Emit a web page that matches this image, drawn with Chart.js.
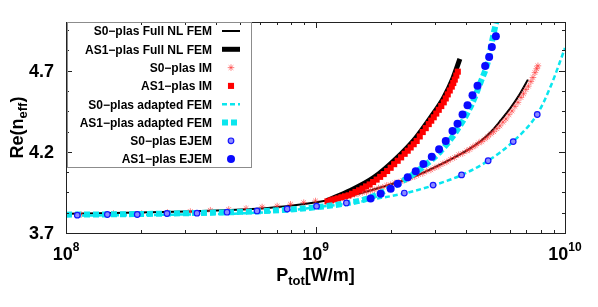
<!DOCTYPE html>
<html>
<head>
<meta charset="utf-8">
<script src="https://cdn.jsdelivr.net/npm/chart.js@4.4.0/dist/chart.umd.min.js"></script>
<style>
  html, body { margin: 0; padding: 0; background: #fff; }
</style>
</head>
<body>
<canvas id="grafico" width="598" height="307"></canvas>
<script>
// P_tot [W/m] and Re(n_eff)
var s0NlFemX = [1e8, 1.74e8, 3.03e8, 5.28e8, 7.65e8, 1.01e9, 1.33e9, 1.82e9, 2.48e9, 3.39e9, 4.08e9, 4.60e9, 5.04e9, 5.53e9, 6.07e9, 6.54e9, 7.10e9];
var s0NlFemY = [3.819, 3.824, 3.832, 3.846, 3.865, 3.889, 3.923, 3.980, 4.048, 4.145, 4.212, 4.267, 4.322, 4.395, 4.474, 4.548, 4.645];

var as1NlFemX = [1.11e9, 1.38e9, 1.71e9, 2.10e9, 2.52e9, 2.90e9, 3.27e9, 3.55e9, 3.79e9];
var as1NlFemY = [3.900, 3.962, 4.041, 4.157, 4.285, 4.413, 4.535, 4.651, 4.773];

// S0 IM: sparse below 1e9, a dense band of stars above
var s0ImX = [1.15e8, 1.55e8, 2.01e8, 2.55e8, 3.15e8, 3.79e8, 4.49e8, 5.27e8, 6.11e8, 7.02e8, 7.94e8, 8.97e8, 1.00e9,
             1.15e9, 1.19e9, 1.24e9, 1.28e9, 1.33e9, 1.38e9, 1.43e9, 1.48e9, 1.54e9, 1.60e9, 1.66e9, 1.72e9,
             1.79e9, 1.86e9, 1.93e9, 2.00e9, 2.08e9, 2.16e9, 2.24e9, 2.32e9, 2.41e9, 2.50e9, 2.59e9, 2.69e9,
             2.79e9, 2.90e9, 3.01e9, 3.12e9, 3.24e9, 3.36e9, 3.48e9, 3.61e9, 3.75e9, 3.89e9, 4.04e9, 4.15e9,
             4.27e9, 4.39e9, 4.51e9, 4.64e9, 4.77e9, 4.90e9, 5.04e9, 5.18e9, 5.33e9, 5.48e9, 5.64e9, 5.80e9,
             5.96e9, 6.13e9, 6.30e9, 6.48e9, 6.66e9, 6.82e9, 6.97e9, 7.13e9, 7.30e9, 7.44e9, 7.58e9, 7.70e9, 7.79e9];
var s0ImY = [3.814, 3.820, 3.820, 3.826, 3.832, 3.840, 3.845, 3.851, 3.860, 3.866, 3.877, 3.887, 3.897,
             3.907, 3.909, 3.916, 3.918, 3.926, 3.929, 3.938, 3.941, 3.950, 3.953, 3.962, 3.966,
             3.977, 3.982, 3.993, 3.997, 4.008, 4.013, 4.023, 4.030, 4.041, 4.048, 4.060, 4.067,
             4.081, 4.089, 4.102, 4.112, 4.127, 4.138, 4.154, 4.165, 4.182, 4.190, 4.206, 4.215,
             4.230, 4.240, 4.255, 4.264, 4.279, 4.292, 4.310, 4.324, 4.343, 4.360, 4.383, 4.403,
             4.429, 4.452, 4.480, 4.505, 4.535, 4.558, 4.584, 4.605, 4.633, 4.658, 4.688, 4.712, 4.730];

var as1ImX = [1.117e9, 1.154e9, 1.192e9, 1.231e9, 1.272e9, 1.313e9, 1.357e9, 1.401e9, 1.447e9, 1.495e9, 1.544e9, 1.595e9,
              1.648e9, 1.702e9, 1.758e9, 1.816e9, 1.876e9, 1.937e9, 2.001e9, 2.067e9, 2.135e9, 2.204e9, 2.277e9, 2.342e9,
              2.407e9, 2.475e9, 2.544e9, 2.617e9, 2.690e9, 2.766e9, 2.844e9, 2.910e9, 2.978e9, 3.048e9, 3.119e9, 3.192e9,
              3.266e9, 3.327e9, 3.389e9, 3.452e9, 3.517e9, 3.566e9, 3.616e9, 3.667e9, 3.718e9];
var as1ImY = [3.895, 3.901, 3.907, 3.913, 3.920, 3.926, 3.932, 3.942, 3.953, 3.963, 3.974, 3.987,
              3.999, 4.014, 4.029, 4.046, 4.063, 4.082, 4.102, 4.124, 4.145, 4.166, 4.188, 4.207,
              4.227, 4.247, 4.267, 4.295, 4.322, 4.346, 4.371, 4.392, 4.413, 4.436, 4.459, 4.482,
              4.505, 4.529, 4.554, 4.578, 4.602, 4.624, 4.645, 4.670, 4.694];

var s0AdFemX = [1e8, 1.74e8, 3.03e8, 5.28e8, 7.65e8, 1.01e9, 1.33e9, 1.74e9, 2.27e9, 2.96e9, 3.85e9, 4.92e9, 6.20e9, 7.74e9, 8.79e9, 1e10];
var s0AdFemY = [3.807, 3.810, 3.814, 3.822, 3.837, 3.859, 3.880, 3.910, 3.944, 3.993, 4.057, 4.145, 4.264, 4.432, 4.609, 4.840];

var as1AdFemX = [1e8, 1.74e8, 3.03e8, 5.28e8, 7.65e8, 1.01e9, 1.33e9, 1.60e9, 1.82e9, 2.19e9, 2.64e9, 3.18e9, 3.65e9, 4.19e9, 4.60e9, 4.91e9, 5.14e9, 5.33e9];
var as1AdFemY = [3.813, 3.816, 3.822, 3.831, 3.843, 3.859, 3.883, 3.910, 3.947, 4.011, 4.096, 4.206, 4.322, 4.480, 4.633, 4.755, 4.907, 5.017];

var s0EjemX = [1.11e8, 1.465e8, 1.93e8, 2.54e8, 3.35e8, 4.42e8, 5.83e8, 7.70e8, 1.01e9, 1.33e9, 2.27e9, 2.96e9, 3.85e9, 4.92e9, 6.20e9, 7.74e9];
var s0EjemY = [3.810, 3.814, 3.814, 3.820, 3.822, 3.828, 3.836, 3.848, 3.865, 3.885, 3.946, 3.995, 4.058, 4.145, 4.263, 4.430];

var as1EjemX = [1.663e9, 1.824e9, 2.001e9, 2.135e9, 2.342e9, 2.521e9, 2.707e9, 2.924e9, 3.128e9, 3.327e9,
                3.540e9, 3.708e9, 3.884e9, 4.067e9, 4.259e9, 4.460e9, 4.786e9, 4.966e9, 5.091e9, 5.283e9];
var as1EjemY = [3.912, 3.942, 3.973, 4.003, 4.043, 4.081, 4.125, 4.170, 4.216, 4.267,
                4.328, 4.373, 4.430, 4.487, 4.548, 4.607, 4.729, 4.785, 4.846, 4.912];

var nomesSeries = ["S0\u2212plas Full NL FEM", "AS1\u2212plas Full NL FEM", "S0\u2212plas IM", "AS1\u2212plas IM",
                   "S0\u2212plas adapted FEM", "AS1\u2212plas adapted FEM", "S0\u2212plas EJEM", "AS1\u2212plas EJEM"];

var expoentesX = [8, 9, 10];
var yTicks = [3.7, 4.2, 4.7];
var yMinorStep = 0.125;

var FONTE = '"Liberation Sans", Arial, Helvetica, sans-serif';
var CIANO = '#0ae6ee';

function pontos(xs, ys) {
    return xs.map(function(x, i) { return { x: x, y: ys[i] }; });
}

// frame, inward ticks, labels, titles and the key, drawn after the data
var eixosPlugin = {
    id: 'eixos',
    afterDatasetsDraw: function(chart) {
        var ctx = chart.ctx;
        var area = chart.chartArea;
        var sx = chart.scales.x, sy = chart.scales.y;
        ctx.save();

        ctx.strokeStyle = '#222';
        ctx.lineWidth = 1;
        ctx.strokeRect(area.left + 0.5, area.top + 0.5, area.right - area.left, area.bottom - area.top);

        // x ticks (log, with minors), mirrored on top
        ctx.beginPath();
        for (var d = 8; d <= 10; d++) {
            for (var m = 1; m <= 9; m++) {
                if (d === 10 && m > 1) break;
                var px = Math.round(sx.getPixelForValue(m * Math.pow(10, d))) + 0.5;
                var len = (m === 1) ? 6 : 3;
                ctx.moveTo(px, area.bottom); ctx.lineTo(px, area.bottom - len);
                ctx.moveTo(px, area.top); ctx.lineTo(px, area.top + len);
            }
        }
        // y ticks, mirrored on the right
        for (var v = 3.7; v <= 5.0001; v += yMinorStep) {
            var py = Math.round(sy.getPixelForValue(v)) + 0.5;
            var maior = Math.abs(((v - 3.7) / 0.5) - Math.round((v - 3.7) / 0.5)) < 1e-6;
            var l = maior ? 6 : 3;
            ctx.moveTo(area.left, py); ctx.lineTo(area.left + l, py);
            ctx.moveTo(area.right, py); ctx.lineTo(area.right - l, py);
        }
        ctx.stroke();

        ctx.fillStyle = '#000';
        // y tick labels
        ctx.font = 'bold 18px ' + FONTE;
        ctx.textAlign = 'right';
        ctx.textBaseline = 'middle';
        yTicks.forEach(function(t) {
            ctx.fillText(t.toFixed(1), area.left - 12, sy.getPixelForValue(t) + 1);
        });

        // x tick labels 10^n
        ctx.textAlign = 'left';
        ctx.textBaseline = 'alphabetic';
        expoentesX.forEach(function(e) {
            var px = sx.getPixelForValue(Math.pow(10, e));
            ctx.font = 'bold 18px ' + FONTE;
            var w1 = ctx.measureText('10').width;
            ctx.font = 'bold 12px ' + FONTE;
            var w2 = ctx.measureText(String(e)).width;
            var x0 = px - (w1 + w2) / 2;
            ctx.font = 'bold 18px ' + FONTE;
            ctx.fillText('10', x0, area.bottom + 27);
            ctx.font = 'bold 12px ' + FONTE;
            ctx.fillText(String(e), x0 + w1, area.bottom + 18);
        });

        // x title P_tot[W/m]
        ctx.font = 'bold 18px ' + FONTE;
        var wP = ctx.measureText('P').width, wU = ctx.measureText('[W/m]').width;
        ctx.font = 'bold 13px ' + FONTE;
        var wT = ctx.measureText('tot').width;
        var xt = (area.left + area.right) / 2 - (wP + wT + wU) / 2;
        var yb = area.bottom + 48;
        ctx.font = 'bold 18px ' + FONTE;
        ctx.fillText('P', xt, yb);
        ctx.font = 'bold 13px ' + FONTE;
        ctx.fillText('tot', xt + wP, yb + 4);
        ctx.font = 'bold 18px ' + FONTE;
        ctx.fillText('[W/m]', xt + wP + wT, yb);

        // y title Re(n_eff)
        ctx.save();
        ctx.translate(23, (area.top + area.bottom) / 2);
        ctx.rotate(-Math.PI / 2);
        ctx.font = 'bold 18px ' + FONTE;
        var wa = ctx.measureText('Re(n').width, wc = ctx.measureText(')').width;
        ctx.font = 'bold 13px ' + FONTE;
        var wb = ctx.measureText('eff').width;
        var x1 = -(wa + wb + wc) / 2;
        ctx.font = 'bold 18px ' + FONTE;
        ctx.fillText('Re(n', x1, 0);
        ctx.font = 'bold 13px ' + FONTE;
        ctx.fillText('eff', x1 + wa, 4);
        ctx.font = 'bold 18px ' + FONTE;
        ctx.fillText(')', x1 + wa + wb, 0);
        ctx.restore();

        // key
        var kx = area.left + 1, ky = area.top, kw = 184, kh = 145;
        ctx.strokeStyle = '#8c8c8c';
        ctx.lineWidth = 1;
        ctx.strokeRect(kx + 0.5, ky + 0.5, kw, kh);
        ctx.font = 'bold 12px ' + FONTE;
        ctx.textAlign = 'right';
        ctx.textBaseline = 'middle';
        chart.data.datasets.forEach(function(ds, i) {
            var yy = ky + 9 + i * 18.3;
            ctx.fillStyle = '#000';
            ctx.fillText(nomesSeries[i], 212, yy + 1);
            if (ds.showLine) {
                ctx.save();
                ctx.strokeStyle = ds.borderColor;
                ctx.lineWidth = ds.borderWidth;
                ctx.setLineDash(ds.borderDash || []);
                ctx.beginPath();
                ctx.moveTo(222, yy);
                ctx.lineTo(240, yy);
                ctx.stroke();
                ctx.restore();
            } else {
                ctx.save();
                ctx.fillStyle = ds.pointBackgroundColor;
                ctx.strokeStyle = ds.pointBorderColor;
                ctx.lineWidth = ds.pointBorderWidth;
                Chart.helpers.drawPoint(ctx, {
                    pointStyle: ds.pointStyle,
                    radius: ds.pointRadius,
                    rotation: 0,
                    borderWidth: ds.pointBorderWidth
                }, 231, yy);
                ctx.restore();
            }
        });

        ctx.restore();
    }
};

var linhaBase = { showLine: true, pointRadius: 0, cubicInterpolationMode: 'monotone', clip: 0, borderCapStyle: 'butt' };

var datasets = [
    Object.assign({}, linhaBase, { label: nomesSeries[0], data: pontos(s0NlFemX, s0NlFemY), borderColor: '#000', borderWidth: 2, order: 7 }),
    Object.assign({}, linhaBase, { label: nomesSeries[1], data: pontos(as1NlFemX, as1NlFemY), borderColor: '#000', borderWidth: 5, order: 6 }),
    { label: nomesSeries[2], data: pontos(s0ImX, s0ImY), showLine: false, pointStyle: 'star', pointRadius: 3.3,
      pointBackgroundColor: 'rgba(255,50,50,0.6)', pointBorderColor: 'rgba(255,50,50,0.6)', pointBorderWidth: 1, order: 5 },
    { label: nomesSeries[3], data: pontos(as1ImX, as1ImY), showLine: false, pointStyle: 'rect', pointRadius: 4.3,
      pointBackgroundColor: '#ff0000', pointBorderColor: '#ff0000', pointBorderWidth: 0, order: 4 },
    Object.assign({}, linhaBase, { label: nomesSeries[4], data: pontos(s0AdFemX, s0AdFemY), borderColor: CIANO, borderWidth: 2.5, borderDash: [5, 3], order: 3 }),
    Object.assign({}, linhaBase, { label: nomesSeries[5], data: pontos(as1AdFemX, as1AdFemY), borderColor: CIANO, borderWidth: 6, borderDash: [6, 3], order: 2 }),
    { label: nomesSeries[6], data: pontos(s0EjemX, s0EjemY), showLine: false, pointStyle: 'circle', pointRadius: 2.8,
      pointBackgroundColor: '#8c8cff', pointBorderColor: '#1414ff', pointBorderWidth: 1.2, order: 1 },
    { label: nomesSeries[7], data: pontos(as1EjemX, as1EjemY), showLine: false, pointStyle: 'circle', pointRadius: 4,
      pointBackgroundColor: '#0a0aff', pointBorderColor: '#0a0aff', pointBorderWidth: 0, order: 0 }
];

var grafico = new Chart(document.getElementById('grafico'), {
    type: 'scatter',
    data: { datasets: datasets },
    options: {
        responsive: false,
        animation: false,
        devicePixelRatio: 1,
        layout: { padding: { left: 66, right: 33, top: 22, bottom: 74 } },
        plugins: { legend: { display: false }, tooltip: { enabled: false } },
        scales: {
            x: { type: 'logarithmic', min: 1e8, max: 1e10, display: false },
            y: { type: 'linear', min: 3.7, max: 5.0, display: false }
        }
    },
    plugins: [eixosPlugin]
});
</script>
</body>
</html>
